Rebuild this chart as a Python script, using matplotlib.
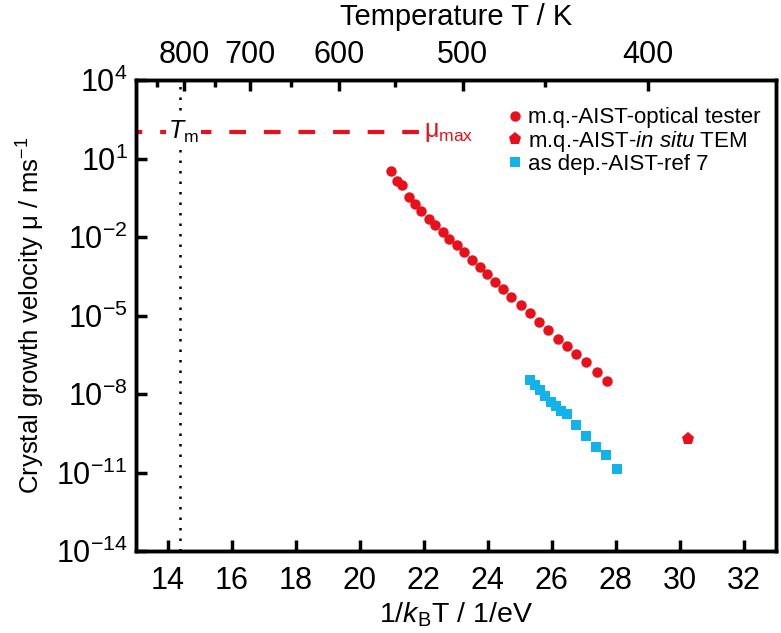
import numpy as np
import matplotlib.pyplot as plt
from matplotlib.ticker import FixedLocator, NullLocator

plt.rcParams['font.family'] = ['Liberation Sans', 'DejaVu Sans']
plt.rcParams['mathtext.fontset'] = 'custom'
plt.rcParams['mathtext.rm'] = 'Liberation Sans'
plt.rcParams['mathtext.it'] = 'Liberation Sans:italic'
plt.rcParams['mathtext.bf'] = 'Liberation Sans:bold'

KB = 8.617e-5  # eV/K
NARROW = ['Liberation Sans Narrow', 'Liberation Sans', 'DejaVu Sans']

# melt-quenched AIST, optical tester (1/kBT in 1/eV, log10 of velocity in m/s)
optical_x = [20.96, 21.16, 21.32, 21.53, 21.71, 21.92, 22.15, 22.36, 22.59, 22.80,
             23.03, 23.27, 23.52, 23.76, 23.99, 24.23, 24.48, 24.74, 25.03, 25.31,
             25.59, 25.89, 26.18, 26.46, 26.77, 27.08, 27.41, 27.73]
optical_logv = [0.54, 0.13, -0.03, -0.47, -0.73, -1.01, -1.30, -1.55, -1.80, -2.06,
                -2.31, -2.57, -2.86, -3.14, -3.43, -3.73, -4.00, -4.30, -4.59, -4.91,
                -5.25, -5.57, -5.89, -6.18, -6.46, -6.77, -7.15, -7.50]

# melt-quenched AIST, in situ TEM
tem_x = [30.26]
tem_logv = [-9.73]

# as deposited AIST, ref 7
asdep_x = [25.31, 25.47, 25.63, 25.80, 25.99, 26.14, 26.28, 26.46, 26.75, 27.06,
           27.39, 27.70, 28.04]
asdep_logv = [-7.47, -7.67, -7.85, -8.08, -8.31, -8.46, -8.65, -8.78, -9.19, -9.60,
              -10.04, -10.33, -10.87]

tm_x = 14.37          # melting temperature in 1/kBT
mu_max = 1e2          # maximum growth velocity
mu_max_xend = 21.84

temp_major = [800, 700, 600, 500, 400]
temp_minor = [850, 750, 650, 550, 450]

red = '#e8101a'
blue = '#12b2ea'

fig = plt.figure(figsize=(7.81, 6.33), dpi=100)
ax = fig.add_axes([0.1741, 0.1295, 0.8191, 0.7441])

ax.plot(optical_x, np.power(10.0, optical_logv), 'o', color=red, ms=7.5, mew=0,
        label='m.q.-AIST-optical tester', zorder=3)
ax.plot(tem_x, np.power(10.0, tem_logv), 'p', color=red, ms=9.5, mew=0,
        label='m.q.-AIST-$\\it{in\\ situ}$ TEM', zorder=3)
ax.plot(asdep_x, np.power(10.0, asdep_logv), 's', color=blue, ms=6.5, mew=0,
        label='as dep.-AIST-ref 7', zorder=3)

ax.axvline(tm_x, color='black', ls=(0, (1, 3.2)), lw=1.8, zorder=1)
ax.plot([13, mu_max_xend], [mu_max, mu_max], color=red, lw=3, ls=(2.5, (4, 4.3)), zorder=2)
ax.text(mu_max_xend + 0.15, mu_max, 'μ$_\\mathrm{max}$', color=red, fontsize=18,
        va='center', ha='left')
ax.text(14.0, mu_max, '$\\it{T}$$_\\mathrm{m}$', fontsize=18, va='center', ha='left',
        bbox=dict(facecolor='white', edgecolor='none', pad=1.5), zorder=2.5)

ax.set_yscale('log')
ax.set_xlim(13, 33)
ax.set_ylim(1e-14, 1e4)
ax.yaxis.set_major_locator(FixedLocator([10.0 ** e for e in range(-14, 5, 3)]))
ax.yaxis.set_minor_locator(NullLocator())
ax.set_yticklabels(['$10^{%d}$' % e if e >= 0 else '$10^{\u2212%d}$' % -e
                    for e in range(-14, 5, 3)])
ax.set_xticks(range(14, 33, 2))

for s in ax.spines.values():
    s.set_linewidth(2.5)
ax.tick_params(axis='both', direction='in', length=8, width=2.5, labelsize=22,
               labelfontfamily=NARROW)
ax.tick_params(axis='x', pad=11)
ax.tick_params(axis='y', right=False, pad=6)

ax.set_xlabel('1/$\\it{k}$$_\\mathrm{B}$T / 1/eV', fontsize=20.5, labelpad=3)
ax.set_ylabel('Crystal growth velocity μ / ms$^{\u22121}$', fontsize=18.5)
ax.yaxis.set_label_coords(-0.139, 0.5)

ax2 = ax.twiny()
ax2.set_xlim(ax.get_xlim())
ax2.set_xticks([1 / (KB * t) for t in temp_major])
ax2.set_xticklabels([str(t) for t in temp_major])
ax2.set_xticks([1 / (KB * t) for t in temp_minor], minor=True)
ax2.tick_params(axis='x', which='major', direction='in', length=8, width=2.5,
                labelsize=22, pad=7, labelfontfamily=NARROW)
ax2.tick_params(axis='x', which='minor', direction='in', length=5, width=2.5)
ax2.set_xlabel('Temperature T / K', fontsize=21, labelpad=11)
for s in ax2.spines.values():
    s.set_linewidth(2.5)

ax.legend(loc='upper right', bbox_to_anchor=(1.0, 0.975), frameon=False, fontsize=16,
          handletextpad=0.1, handlelength=0.9, labelspacing=0.02, borderaxespad=0.3)

fig.savefig('out.png', dpi=100)
